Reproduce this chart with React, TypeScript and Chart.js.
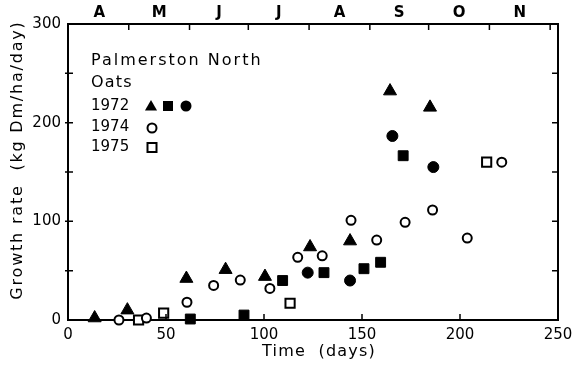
import React, { useEffect, useRef } from 'react';
import { Chart, registerables } from 'chart.js';

Chart.register(...registerables);

// 1972 – triangles
const tri1972Days = [13.6, 30.3, 60.4, 80.4, 100.5, 123.5, 143.9, 164.3, 184.7];
const tri1972Rate = [2, 10, 42, 51, 44, 74, 80, 232, 215.5];
// 1972 – filled squares
const sq1972Days = [62.4, 89.8, 109.5, 130.6, 151, 159.5, 171];
const sq1972Rate = [1, 5, 40, 48, 52, 58.5, 166.5];
// 1972 – filled circles
const dot1972Days = [122.3, 143.9, 165.5, 186.4];
const dot1972Rate = [48, 40, 186.5, 155];
// 1974 – open circles
const circ1974Days = [26, 40, 60.7, 74.3, 87.9, 103, 117.2, 129.7, 144.4, 157.5, 172, 186, 203.7, 221.3];
const circ1974Rate = [0, 2, 18, 35, 40.5, 32, 63.5, 65, 101, 81, 99, 111.5, 83, 160];
// 1975 – open squares
const sq1975Days = [36, 48.8, 113.3, 213.6];
const sq1975Rate = [0, 7, 17, 160];

const monthLabels = ['A', 'M', 'J', 'J', 'A', 'S', 'O', 'N'];
const monthBounds = [1, 31, 62, 92, 123, 154, 184, 215, 246];
const xTicks = [0, 50, 100, 150, 200, 250];
const yTicks = [0, 100, 200, 300];
const minorY = [50, 100, 150, 200, 250];
const minorX = [50, 100, 150, 200];

const legendTitle = ['Palmerston North', 'Oats'];
const legendYears = ['1972', '1974', '1975'];
const xTitle = 'Time  (days)';
const yTitle = 'Growth rate  (kg Dm/ha/day)';

const FONT = '"DejaVu Sans", sans-serif';

const pts = (xs: number[], ys: number[]) => xs.map((x, i) => ({ x, y: ys[i] }));

const decorPlugin = {
  id: 'decor',
  afterDraw(chart: any) {
    const { ctx, chartArea, scales } = chart;
    const { left, right, top, bottom } = chartArea;
    const xs = scales.x;
    const ys = scales.y;
    ctx.save();
    ctx.strokeStyle = '#000';
    ctx.lineWidth = 1.5;
    ctx.beginPath();
    minorY.forEach((v) => {
      const py = ys.getPixelForValue(v);
      ctx.moveTo(left - 3, py);
      ctx.lineTo(left + 5, py);
      ctx.moveTo(right - 6, py);
      ctx.lineTo(right, py);
    });
    minorX.forEach((v) => {
      const px = xs.getPixelForValue(v);
      ctx.moveTo(px, bottom);
      ctx.lineTo(px, bottom - 6);
    });
    monthBounds.slice(1).forEach((v) => {
      const px = xs.getPixelForValue(v);
      ctx.moveTo(px, top);
      ctx.lineTo(px, top + 6);
    });
    ctx.stroke();

    ctx.fillStyle = '#000';
    ctx.textBaseline = 'middle';

    // axis titles
    ctx.textAlign = 'center';
    ctx.font = `16px ${FONT}`;
    (ctx as any).letterSpacing = '1.2px';
    ctx.fillText(xTitle, (left + right) / 2 + 6, 352);
    ctx.save();
    ctx.translate(18, 160);
    ctx.rotate(-Math.PI / 2);
    (ctx as any).letterSpacing = '1.8px';
    ctx.fillText(yTitle, 0, 0);
    ctx.restore();

    // legend block
    ctx.textAlign = 'left';
    ctx.font = `16px ${FONT}`;
    (ctx as any).letterSpacing = '2px';
    const lx = 91;
    ctx.fillText(legendTitle[0], lx, 61);
    (ctx as any).letterSpacing = '1.2px';
    ctx.fillText(legendTitle[1], lx, 83);
    ctx.font = `15px ${FONT}`;
    (ctx as any).letterSpacing = '0px';
    ctx.fillText(legendYears[0], lx, 106);
    ctx.fillText(legendYears[1], lx, 127);
    ctx.fillText(legendYears[2], lx, 147);

    // markers
    const tri = (cx: number, cy: number, r: number) => {
      ctx.beginPath();
      ctx.moveTo(cx, cy - r);
      ctx.lineTo(cx + r * 0.866, cy + r * 0.5);
      ctx.lineTo(cx - r * 0.866, cy + r * 0.5);
      ctx.closePath();
      ctx.fill();
    };
    tri(151, 107, 7);
    ctx.fillRect(163, 101, 10, 10);
    ctx.beginPath();
    ctx.arc(186, 106, 5.5, 0, Math.PI * 2);
    ctx.fill();
    ctx.lineWidth = 2;
    ctx.beginPath();
    ctx.arc(152, 128, 4.5, 0, Math.PI * 2);
    ctx.stroke();
    ctx.strokeRect(147.5, 143, 9, 9);
    ctx.restore();
    (ctx as any).letterSpacing = '0px';
  },
};

export default function App() {
  const ref = useRef<HTMLCanvasElement>(null);
  useEffect(() => {
    const canvas = ref.current;
    if (!canvas) return;
    const tickFont = { family: FONT, size: 15 };
    const noSidePad = (s: any) => {
      s.paddingLeft = 0;
      s.paddingRight = 0;
    };
    const chart = new Chart(canvas, {
      type: 'scatter',
      data: {
        datasets: [
          {
            label: '1972 triangles',
            data: pts(tri1972Days, tri1972Rate),
            pointStyle: 'triangle',
            pointRadius: 7.5,
            backgroundColor: '#000',
            borderColor: '#000',
            borderWidth: 1,
            clip: false,
          },
          {
            label: '1972 squares',
            data: pts(sq1972Days, sq1972Rate),
            pointStyle: 'rect',
            pointRadius: 7,
            backgroundColor: '#000',
            borderColor: '#000',
            borderWidth: 1,
            clip: false,
          },
          {
            label: '1972 circles',
            data: pts(dot1972Days, dot1972Rate),
            pointStyle: 'circle',
            pointRadius: 5.5,
            backgroundColor: '#000',
            borderColor: '#000',
            borderWidth: 1,
            clip: false,
          },
          {
            label: '1974',
            data: pts(circ1974Days, circ1974Rate),
            pointStyle: 'circle',
            pointRadius: 4.5,
            backgroundColor: '#fff',
            borderColor: '#000',
            borderWidth: 2,
            clip: false,
          },
          {
            label: '1975',
            data: pts(sq1975Days, sq1975Rate),
            pointStyle: 'rect',
            pointRadius: 6.5,
            backgroundColor: '#fff',
            borderColor: '#000',
            borderWidth: 2,
            clip: false,
          },
        ] as any,
      },
      options: {
        animation: false,
        responsive: false,
        events: [],
        layout: { padding: 0 },
        plugins: { legend: { display: false }, tooltip: { enabled: false } },
        scales: {
          x: {
            type: 'linear',
            position: 'bottom',
            min: 0,
            max: 250,
            afterBuildTicks: (s: any) => {
              s.ticks = xTicks.map((v) => ({ value: v }));
            },
            afterFit: (s: any) => {
              s.height = 45;
              noSidePad(s);
            },
            grid: { display: false, drawTicks: false },
            border: { display: true, color: '#000', width: 2 },
            ticks: { color: '#000', font: tickFont, padding: 6, maxRotation: 0 },
          },
          x2: {
            type: 'linear',
            position: 'top',
            min: 0,
            max: 250,
            afterBuildTicks: (s: any) => {
              s.ticks = monthLabels.map((_, i) => ({ value: (monthBounds[i] + monthBounds[i + 1]) / 2 }));
            },
            afterFit: (s: any) => {
              s.height = 24;
              noSidePad(s);
            },
            grid: { display: false, drawTicks: false },
            border: { display: true, color: '#000', width: 2 },
            ticks: {
              color: '#000',
              font: { family: FONT, size: 15, weight: 'bold' },
              padding: 2,
              maxRotation: 0,
              autoSkip: false,
              callback: (_v: any, i: number) => monthLabels[i],
            },
          },
          y: {
            type: 'linear',
            position: 'left',
            min: 0,
            max: 300,
            afterBuildTicks: (s: any) => {
              s.ticks = yTicks.map((v) => ({ value: v }));
            },
            afterFit: (s: any) => {
              s.width = 68;
              s.paddingTop = 0;
              s.paddingBottom = 0;
            },
            grid: { display: false, drawTicks: false },
            border: { display: true, color: '#000', width: 2 },
            ticks: { color: '#000', font: tickFont, padding: 7 },
          },
          y2: {
            type: 'linear',
            position: 'right',
            min: 0,
            max: 300,
            afterFit: (s: any) => {
              s.width = 15;
              s.paddingTop = 0;
              s.paddingBottom = 0;
            },
            grid: { display: false, drawTicks: false },
            border: { display: true, color: '#000', width: 2 },
            ticks: { display: false },
          },
        },
      } as any,
      plugins: [decorPlugin],
    });
    return () => chart.destroy();
  }, []);
  return (
    <div style={{ position: 'fixed', left: 0, top: 0, width: 573, height: 365, background: '#fff' }}>
      <canvas ref={ref} width={573} height={365} style={{ display: 'block' }} />
    </div>
  );
}
